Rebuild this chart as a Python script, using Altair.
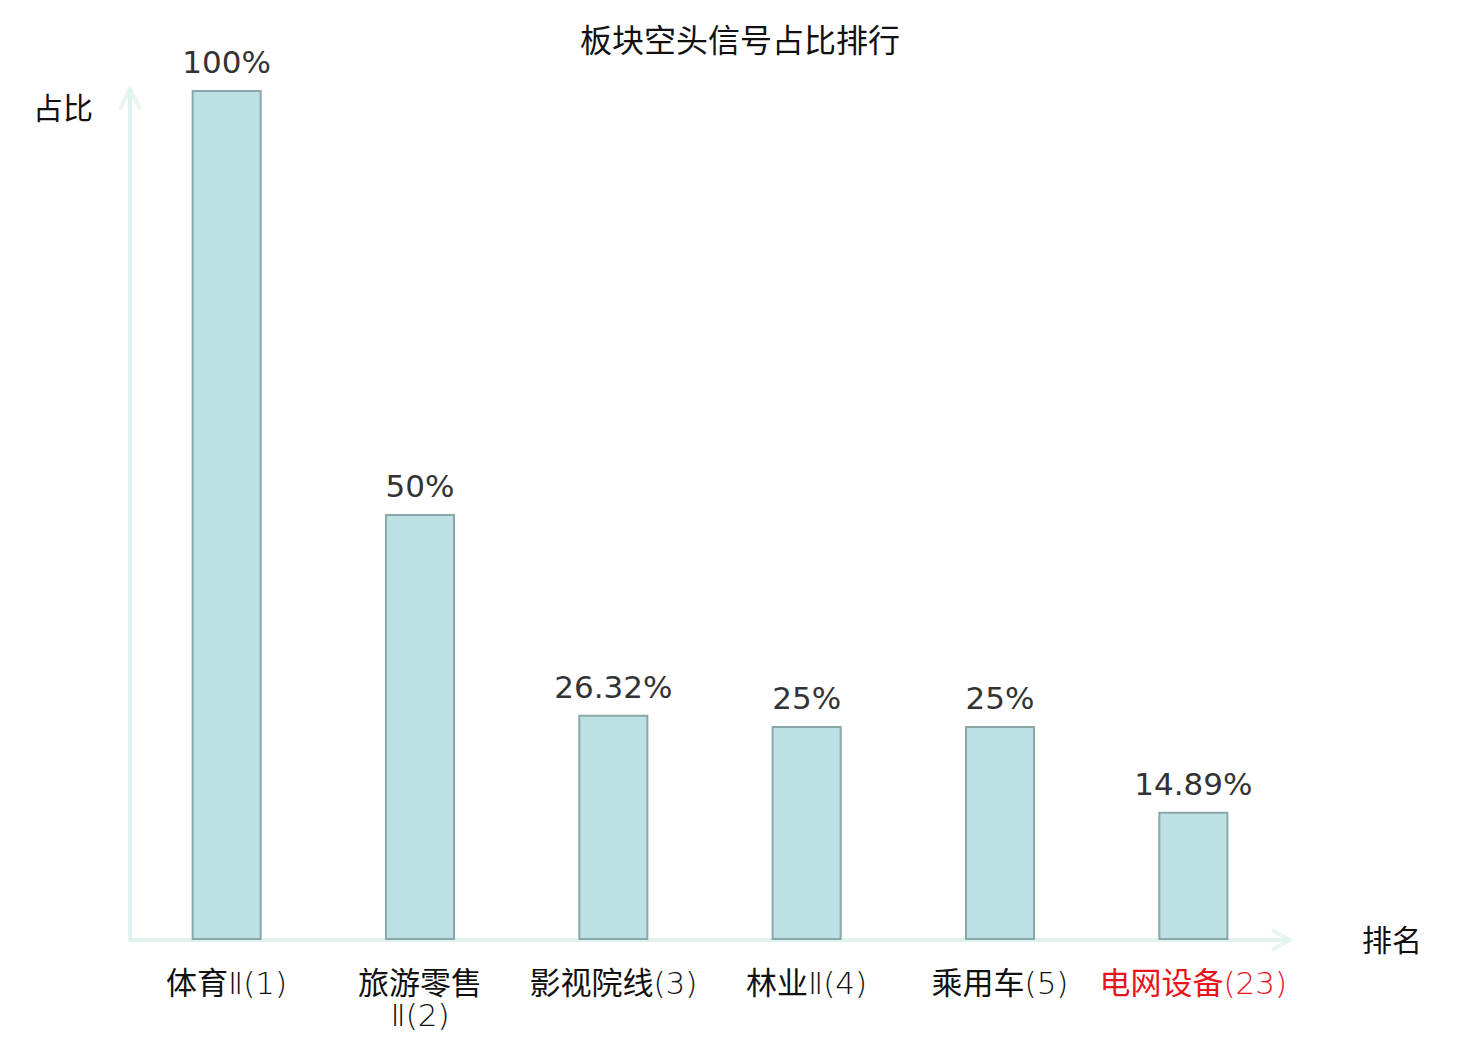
import altair as alt
import pandas as pd

categories = ["体育Ⅱ(1)", "旅游零售Ⅱ(2)", "影视院线(3)", "林业Ⅱ(4)", "乘用车(5)", "电网设备(23)"]
cjk_parts = ["体育", "旅游零售", "影视院线", "林业", "乘用车", "电网设备"]
suffixes = ["Ⅱ(1)", "Ⅱ(2)", "(3)", "Ⅱ(4)", "(5)", "(23)"]
wrapped = [False, True, False, False, False, False]
values = [100, 50, 26.32, 25, 25, 14.89]
value_labels = ["100%", "50%", "26.32%", "25%", "25%", "14.89%"]
highlight = [False, False, False, False, False, True]

W, H = 1160, 848
FS = 31
FONT = "Noto Sans CJK SC"
AXIS_COLOR = "#dff2ef"
P_INNER = 0.648
P_OUTER = P_INNER / 2
STEP = W / (len(categories) - P_INNER + 2 * P_OUTER)
HALF_BAND = STEP * (1 - P_INNER) / 2  # xOffset is measured from the band start

# approximate advance widths (em) of the thin Latin font used for the suffixes
ADV = {"(": 0.39, ")": 0.39, "Ⅱ": 0.5}


def suffix_width(s):
    return sum(ADV.get(c, 0.636) for c in s) * FS


split, cjk_y, suf_y = [], [], []
for cj, sf, wr in zip(cjk_parts, suffixes, wrapped):
    cw = len(cj) * FS
    if wr:
        split.append(HALF_BAND)
        cjk_y.append(H + 46)
        suf_y.append(H + 78)
    else:
        split.append(HALF_BAND + cw - (cw + suffix_width(sf)) / 2)
        cjk_y.append(H + 46)
        suf_y.append(H + 46)

df = pd.DataFrame({"cat": categories, "val": values, "lab": value_labels, "hl": highlight,
                   "cjk": cjk_parts, "suf": suffixes, "off": split,
                   "cy": cjk_y, "sy": suf_y, "wr": wrapped})

xscale = alt.Scale(paddingInner=P_INNER, paddingOuter=P_OUTER)
x_enc = alt.X("cat:N", sort=categories, scale=xscale, axis=None)
y_enc = alt.Y("val:Q", scale=alt.Scale(domain=[0, 100], nice=False), axis=None)
color_enc = alt.condition("datum.hl", alt.value("#e8141c"), alt.value("#111111"))

base = alt.Chart(df)

bars = base.mark_bar(fill="#bce0e3", stroke="#8aa8aa", strokeWidth=2).encode(x=x_enc, y=y_enc)

vlabels = base.mark_text(font="DejaVu Sans", fontSize=FS, color="#333333",
                         baseline="alphabetic", dy=-18).encode(x=x_enc, y=y_enc, text="lab:N")

cjk_single = base.transform_filter("!datum.wr").mark_text(
    font=FONT, fontSize=FS, baseline="middle", align="right").encode(
    x=x_enc, xOffset=alt.XOffset("off:Q", scale=None), y=alt.Y("cy:Q", scale=None),
    text="cjk:N", color=color_enc)
suf_single = base.transform_filter("!datum.wr").mark_text(
    font="DejaVu Sans", fontWeight=200, fontSize=FS, baseline="middle", align="left").encode(
    x=x_enc, xOffset=alt.XOffset("off:Q", scale=None), y=alt.Y("sy:Q", scale=None),
    text="suf:N", color=color_enc)
cjk_wrap = base.transform_filter("datum.wr").mark_text(
    font=FONT, fontSize=FS, baseline="middle", align="center").encode(
    x=x_enc, y=alt.Y("cy:Q", scale=None), text="cjk:N", color=color_enc)
suf_wrap = base.transform_filter("datum.wr").mark_text(
    font="DejaVu Sans", fontWeight=200, fontSize=FS, baseline="middle", align="center").encode(
    x=x_enc, y=alt.Y("sy:Q", scale=None), text="suf:N", color=color_enc)

one = pd.DataFrame({"k": [0]})
oc = alt.Chart(one)

yaxis = oc.mark_rule(color=AXIS_COLOR, strokeWidth=4).encode(
    x=alt.value(0), y=alt.value(-2), y2=alt.value(H + 2))
xaxis = oc.mark_rule(color=AXIS_COLOR, strokeWidth=4).encode(
    x=alt.value(0), x2=alt.value(W), y=alt.value(H + 1))
yarrow = oc.mark_point(shape="M-0.5,1L0,0L0.5,1", size=1600, filled=False,
                       stroke=AXIS_COLOR, strokeWidth=4).encode(x=alt.value(0), y=alt.value(-2))
xarrow = oc.mark_point(shape="M-0.9,-0.5L0,0L-0.9,0.5", size=1600, filled=False,
                       stroke=AXIS_COLOR, strokeWidth=4).encode(x=alt.value(W), y=alt.value(H + 1))

title = oc.mark_text(text="板块空头信号占比排行", font=FONT, fontSize=32, color="#111111",
                     baseline="middle").encode(x=alt.value(610), y=alt.value(-49))
ytitle = oc.mark_text(text="占比", font=FONT, fontSize=30, color="#111111",
                      baseline="middle").encode(x=alt.value(-67), y=alt.value(19))
xtitle = oc.mark_text(text="排名", font=FONT, fontSize=30, color="#111111",
                      baseline="middle").encode(x=alt.value(1262), y=alt.value(H + 3))

chart = alt.layer(yaxis, xaxis, yarrow, xarrow, bars, vlabels,
                  cjk_single, suf_single, cjk_wrap, suf_wrap,
                  title, ytitle, xtitle).properties(
    width=W, height=H,
    background="white",
    autosize=alt.AutoSizeParams(type="none"),
    padding={"left": 122, "top": 83, "right": 182, "bottom": 93},
).configure_view(stroke=None)

chart.save("out.html", embed_options={"renderer": "svg", "actions": False})
